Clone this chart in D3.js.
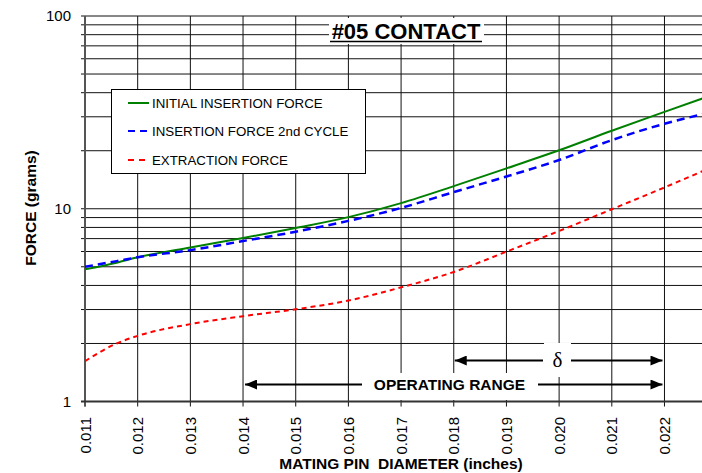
<!DOCTYPE html>
<html><head><meta charset="utf-8">
<script src="https://cdn.jsdelivr.net/npm/d3@7"></script>
<style>body{margin:0;background:#fff}svg{display:block;font-family:"Liberation Sans",Arial,sans-serif}</style>
</head><body>
<svg id="c" width="702" height="473"></svg>
<script>
const xValues = [0.011, 0.0116, 0.012, 0.013, 0.014, 0.015, 0.016, 0.017, 0.018, 0.019, 0.020, 0.021, 0.022, 0.0228];
const initialInsertion = [4.85, 5.25, 5.6, 6.3, 7.05, 7.95, 9.05, 10.7, 13.1, 16.2, 20.1, 25.4, 31.8, 38.0];
const insertion2nd    = [5.0, 5.35, 5.6, 6.1, 6.8, 7.6, 8.65, 10.1, 12.2, 14.7, 17.9, 22.7, 27.6, 31.3];
const extraction      = [1.62, 2.0, 2.19, 2.52, 2.77, 3.01, 3.34, 3.91, 4.7, 5.99, 7.67, 9.94, 12.9, 16.0];
const xTicks = [0.011,0.012,0.013,0.014,0.015,0.016,0.017,0.018,0.019,0.020,0.021,0.022];
const xTickLabels = ["0.011","0.012","0.013","0.014","0.015","0.016","0.017","0.018","0.019","0.020","0.021","0.022"];
const yMajor = [1, 10, 100];
const yMajorLabels = ["1", "10", "100"];
const seriesNames = ["INITIAL INSERTION FORCE", "INSERTION FORCE 2nd CYCLE", "EXTRACTION FORCE"];
const operatingRange = [0.014, 0.022];
const deltaRange = [0.018, 0.022];

const svg = d3.select("#c");
const L = 85, T = 16, B = 401.5, Rpx = 702;
const x = d3.scaleLinear().domain([0.011, 0.0228]).range([L, L + 11.8 * 52.68]);
const y = d3.scaleLog().domain([1, 100]).range([B, T]);

// horizontal grid (1..100, all minors)
const hVals = [];
for (let d = 1; d < 100; d *= 10) for (let k = 1; k < 10; k++) hVals.push(d * k);
hVals.push(100);
svg.append("g").selectAll("line").data(hVals).join("line")
  .attr("x1", L - 4).attr("x2", Rpx).attr("y1", d => y(d)).attr("y2", d => y(d))
  .attr("stroke", "#111").attr("stroke-width", 1);
// vertical grid
svg.append("g").selectAll("line").data(xTicks).join("line")
  .attr("x1", d => x(d)).attr("x2", d => x(d)).attr("y1", T).attr("y2", B + 5)
  .attr("stroke", "#111").attr("stroke-width", 1);
// axes lines
svg.append("line").attr("x1", L).attr("x2", L).attr("y1", T).attr("y2", B + 5).attr("stroke", "#555").attr("stroke-width", 2);
svg.append("line").attr("x1", L - 4).attr("x2", Rpx).attr("y1", B).attr("y2", B).attr("stroke", "#333").attr("stroke-width", 2);

// y labels
svg.append("g").selectAll("text").data(yMajor).join("text")
  .attr("x", 71).attr("y", d => y(d)).attr("dy", "0.36em").attr("text-anchor", "end")
  .attr("font-size", 15).text((d, i) => yMajorLabels[i]);
// x labels
svg.append("g").selectAll("text").data(xTicks).join("text")
  .attr("transform", d => `translate(${x(d) + 5.5},417) rotate(-90)`)
  .attr("text-anchor", "end").attr("font-size", 15).text((d, i) => xTickLabels[i]);

// axis titles
svg.append("text").attr("transform", "translate(36,208) rotate(-90)").attr("text-anchor", "middle")
  .attr("font-size", 15.5).attr("font-weight", "bold").text("FORCE (grams)");
svg.append("text").attr("x", 401).attr("y", 469).attr("text-anchor", "middle")
  .attr("font-size", 15.5).attr("font-weight", "bold")
  .text("MATING PIN\u00A0 DIAMETER (inches)");

// title
svg.append("rect").attr("x", 329).attr("y", 18).attr("width", 155).attr("height", 26).attr("fill", "#fff");
svg.append("text").attr("x", 406).attr("y", 39).attr("text-anchor", "middle").attr("font-size", 22)
  .attr("font-weight", "bold").text("#05 CONTACT");
svg.append("line").attr("x1", 330).attr("x2", 482).attr("y1", 41.5).attr("y2", 41.5).attr("stroke", "#000").attr("stroke-width", 1.6);

// curves
svg.append("clipPath").attr("id", "clip").append("rect").attr("x", L).attr("y", T).attr("width", Rpx - L).attr("height", B - T);
const line = d3.line().x(d => x(d[0])).y(d => y(d[1])).curve(d3.curveMonotoneX);
const series = [
  {vals: initialInsertion, color: "#008000", dash: null, w: 2},
  {vals: insertion2nd, color: "#0000ff", dash: "8,5", w: 2.5},
  {vals: extraction, color: "#ff0000", dash: "5,4", w: 2}
];
const cg = svg.append("g").attr("clip-path", "url(#clip)");
series.forEach(s => {
  cg.append("path").datum(xValues.map((v, i) => [v, s.vals[i]])).attr("d", line)
    .attr("fill", "none").attr("stroke", s.color).attr("stroke-width", s.w)
    .attr("stroke-dasharray", s.dash);
});

// legend
svg.append("rect").attr("x", 111.5).attr("y", 89.5).attr("width", 254).attr("height", 84)
  .attr("fill", "#fff").attr("stroke", "#000").attr("stroke-width", 1);
const rows = [103, 131, 160];
series.forEach((s, i) => {
  svg.append("line").attr("x1", 128).attr("x2", 149).attr("y1", rows[i]).attr("y2", rows[i])
    .attr("stroke", s.color).attr("stroke-width", 2).attr("stroke-dasharray", s.dash ? (i === 1 ? "7,5" : "6,5") : null);
  svg.append("text").attr("x", 152).attr("y", rows[i]).attr("dy", "0.36em").attr("font-size", 13.3).text(seriesNames[i]);
});

// annotations
const defsM = svg.append("defs");
defsM.append("marker").attr("id", "ah").attr("viewBox", "0 0 12 10").attr("refX", 12).attr("refY", 5)
  .attr("markerWidth", 12).attr("markerHeight", 10).attr("markerUnits", "userSpaceOnUse").attr("orient", "auto")
  .append("path").attr("d", "M0,0 L12,5 L0,10 Z").attr("fill", "#000");
function arrow(x1, x2, yy) {
  svg.append("line").attr("x1", x1).attr("x2", x2).attr("y1", yy).attr("y2", yy)
    .attr("stroke", "#000").attr("stroke-width", 2).attr("marker-end", "url(#ah)");
}
// operating range
svg.append("rect").attr("x", 366).attr("y", 373).attr("width", 166).attr("height", 27).attr("fill", "#fff");
svg.append("text").attr("x", 449.5).attr("y", 390).attr("text-anchor", "middle").attr("font-size", 15.5)
  .attr("font-weight", "bold").text("OPERATING RANGE");
arrow(362, x(operatingRange[0]) + 2, 384.5);
arrow(538, x(operatingRange[1]) - 2, 384.5);
// delta
svg.append("rect").attr("x", 544).attr("y", 343).attr("width", 27).attr("height", 34).attr("fill", "#fff");
svg.append("text").attr("x", 557.5).attr("y", 367).attr("text-anchor", "middle")
  .attr("font-family", "'Liberation Serif','DejaVu Serif',serif").attr("font-size", 21).text("δ");
arrow(543, x(deltaRange[0]) + 1, 360.5);
arrow(571, x(deltaRange[1]) - 2, 360.5);
</script>
</body></html>
